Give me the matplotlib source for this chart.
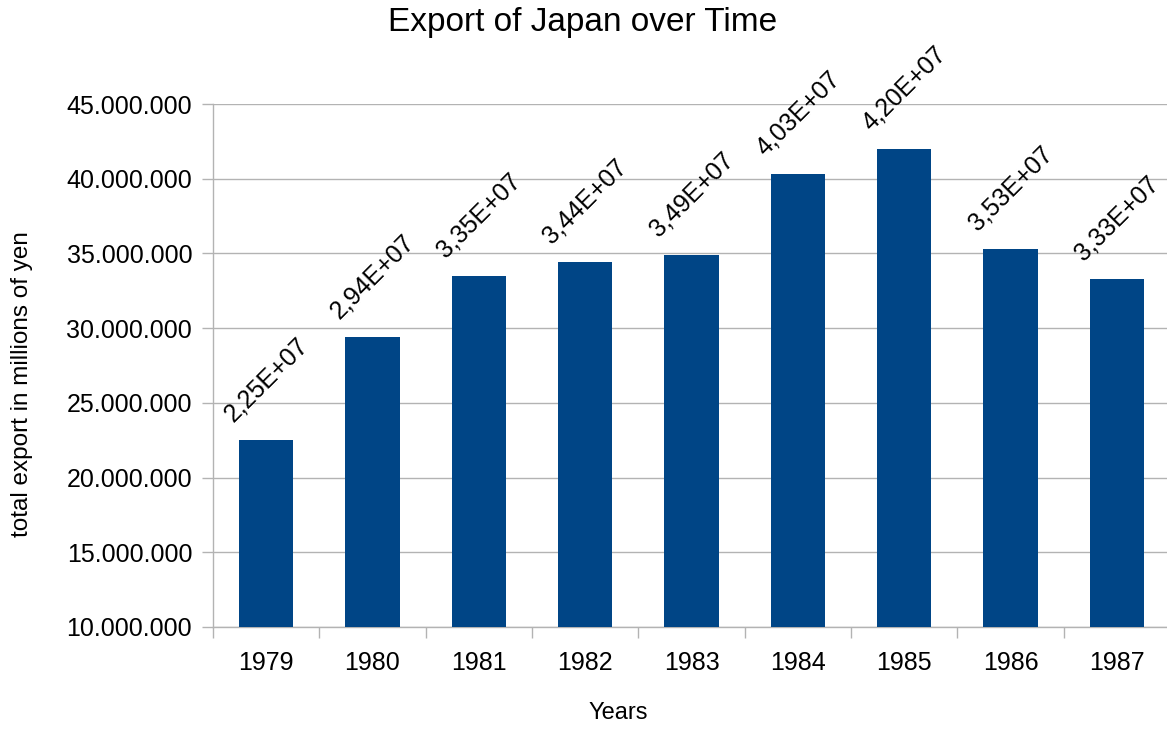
import matplotlib
matplotlib.use('Agg')
import matplotlib.pyplot as plt
from matplotlib.ticker import FuncFormatter, MultipleLocator

years = ['1979', '1980', '1981', '1982', '1983', '1984', '1985', '1986', '1987']
exports = [22500000, 29400000, 33500000, 34400000, 34900000,
           40300000, 42000000, 35300000, 33300000]

plt.rcParams['font.family'] = ['Liberation Sans', 'DejaVu Sans']
grey = '#b3b3b3'

fig = plt.figure(figsize=(11.67, 7.31), dpi=100)
ax = fig.add_axes([213 / 1167, 1 - 627 / 731, 957 / 1167, 523 / 731])

x = list(range(len(years)))
ax.bar(x, exports, width=0.51, color='#004586', zorder=3)

for xi, v in zip(x, exports):
    label = f'{v:.2E}'.replace('.', ',')
    ax.annotate(label, (xi, v), xytext=(0, 10), textcoords='offset points',
                ha='center', va='bottom', rotation=45, fontsize=18, zorder=4)

ax.set_xlim(-0.5, len(years) - 0.5)
ax.set_ylim(10000000, 45000000)
ax.yaxis.set_major_locator(MultipleLocator(5000000))
ax.yaxis.set_major_formatter(FuncFormatter(lambda v, p: f'{v:,.0f}'.replace(',', '.')))
ax.grid(axis='y', color=grey, linewidth=1, zorder=0)

ax.set_xticks(x)
ax.set_xticklabels(years)
ax.set_xticks([i - 0.5 for i in range(len(years) + 1)], minor=True)
ax.tick_params(axis='x', which='major', length=0, pad=17, labelsize=18)
ax.tick_params(axis='x', which='minor', length=8, width=1, color=grey, direction='out')
ax.tick_params(axis='y', length=8, width=1, color=grey, pad=7, labelsize=18)

for s in ['top', 'right']:
    ax.spines[s].set_visible(False)
for s in ['left', 'bottom']:
    ax.spines[s].set_color(grey)
    ax.spines[s].set_linewidth(1)

fig.text(583 / 1167, 1 - 23 / 731, 'Export of Japan over Time', ha='center', va='center', fontsize=24)
fig.text(22 / 1167, 1 - 384 / 731, 'total export in millions of yen', ha='center', va='center',
         rotation=90, fontsize=17.5)
fig.text(618 / 1167, 1 - 713 / 731, 'Years', ha='center', va='center', fontsize=17)

plt.savefig('out.png', dpi=100)
plt.close()
